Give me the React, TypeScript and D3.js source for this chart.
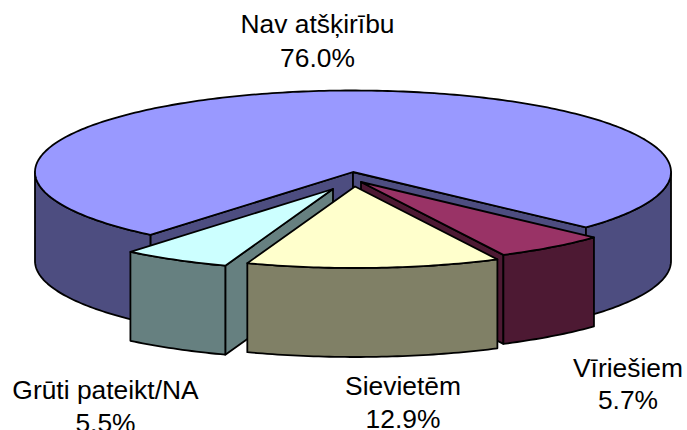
import React from "react";
import * as d3 from "d3";

const categories = ["Vīriešiem", "Sievietēm", "Grūti pateikt/NA", "Nav atšķirību"];
const values = [5.7, 12.9, 5.5, 76.0];
const valueLabels = ["5.7%", "12.9%", "5.5%", "76.0%"];

const topColors = ["#993366", "#FFFFCC", "#CCFFFF", "#9999FF"];
const wallColors = ["#4D1933", "#808066", "#668080", "#4D4D80"];

const W = 687, H = 430;
const RX = 318, RY = 81.5, DEPTH = 89;
const BASE = [353, 172];
const shifts = [[8, 10], [2, 14.5], [-20, 17], [0, 0]];
const labelPos = [[628, 377, 409], [403, 395, 428], [105.5, 399, 432], [317.5, 33, 66.5]];
const START = (132.9 * Math.PI) / 180;
const drawOrder = [3, 0, 2, 1];

const line = d3.line<[number, number]>();

export default function App() {
  const pie = d3.pie<number>().sort(null).startAngle(START).endAngle(START + 2 * Math.PI);
  const arcs = pie(values);

  const slices = arcs.map((a, i) => {
    const cx = BASE[0] + shifts[i][0];
    const cy = BASE[1] + shifts[i][1];
    const pt = (t: number, dz = 0): [number, number] => [cx + RX * Math.sin(t), cy - RY * Math.cos(t) + dz];
    const sample = (t0: number, t1: number, dz = 0) => {
      const n = Math.max(2, Math.ceil(Math.abs(t1 - t0) * 60));
      return d3.range(n + 1).map((k) => pt(t0 + ((t1 - t0) * k) / n, dz));
    };
    const apex: [number, number] = [cx, cy];
    const apexB: [number, number] = [cx, cy + DEPTH];
    const top = line([apex, ...sample(a.startAngle, a.endAngle), apex]) + "Z";
    const radial: string[] = [];
    if (-Math.sin(a.startAngle) > 0) radial.push(line([apex, pt(a.startAngle), pt(a.startAngle, DEPTH), apexB]) + "Z");
    if (Math.sin(a.endAngle) > 0) radial.push(line([apex, pt(a.endAngle), pt(a.endAngle, DEPTH), apexB]) + "Z");
    const outer: string[] = [];
    for (const k of [-1, 0, 1]) {
      const lo = Math.max(a.startAngle, Math.PI / 2 + 2 * Math.PI * k);
      const hi = Math.min(a.endAngle, (3 * Math.PI) / 2 + 2 * Math.PI * k);
      if (hi > lo) outer.push(line([...sample(lo, hi), ...sample(hi, lo, DEPTH)]) + "Z");
    }
    return { top, radial, outer, i };
  });

  const stroke = { stroke: "#000", strokeWidth: 1.8, strokeLinejoin: "round" as const };

  return (
    <>
      <style>{"body{margin:0;overflow:hidden;background:#fff}"}</style>
      <svg width={W} height={H} viewBox={`0 0 ${W} ${H}`} style={{ display: "block" }}>
        {drawOrder.map((idx) => {
          const s = slices[idx];
          return (
            <g key={idx}>
              {s.radial.map((d, j) => <path key={j} d={d} fill={wallColors[idx]} {...stroke} />)}
              {s.outer.map((d, j) => <path key={j} d={d} fill={wallColors[idx]} {...stroke} />)}
              <path d={s.top} fill={topColors[idx]} {...stroke} />
            </g>
          );
        })}
        {categories.map((c, i) => (
          <g key={c} fontFamily="'Liberation Sans', Arial, sans-serif" fontSize={26.4} textAnchor="middle" fill="#000">
            <text x={labelPos[i][0]} y={labelPos[i][1]}>{c}</text>
            <text x={labelPos[i][0]} y={labelPos[i][2]}>{valueLabels[i]}</text>
          </g>
        ))}
      </svg>
    </>
  );
}
